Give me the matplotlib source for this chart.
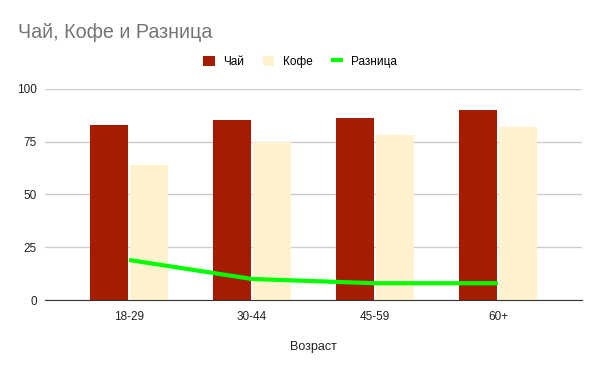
import numpy as np
import matplotlib.pyplot as plt

plt.rcParams['font.family'] = ['Liberation Sans', 'DejaVu Sans']

ages = ['18-29', '30-44', '45-59', '60+']
tea = [83, 85, 86, 90]
coffee = [64, 75, 78, 82]
diff = [19, 10, 8, 8]

fig = plt.figure(figsize=(6, 3.71), dpi=100)
ax = fig.add_axes([0.075, 0.191, 0.895, 0.570])

x = np.arange(len(ages))
w = 0.31
b1 = ax.bar(x - w / 2 - 0.008, tea, w, color='#a61c00', label='Чай', zorder=2)
b2 = ax.bar(x + w / 2 + 0.008, coffee, w, color='#fff2cc', label='Кофе', zorder=2)
l1, = ax.plot(x, diff, color='#00ff00', lw=3, label='Разница', zorder=3, solid_capstyle='butt')

ax.set_xlim(-0.683, 3.683)
ax.set_ylim(0, 100)
ax.set_yticks([0, 25, 50, 75, 100])
ax.set_xticks(x)
ax.set_xticklabels(ages)
ax.grid(axis='y', color='#cccccc', lw=1, zorder=0)
for s in ['top', 'right', 'left']:
    ax.spines[s].set_visible(False)
ax.spines['bottom'].set_color('#333333')
ax.tick_params(length=0, labelsize=8.5, colors='#222222', pad=8)
ax.tick_params(axis='y', pad=6)
ax.set_xlabel('Возраст', fontsize=9, color='#222222', labelpad=13)

fig.text(0.03, 0.913, 'Чай, Кофе и Разница', fontsize=14.2, color='#757575', va='center')
fig.legend([b1, b2, l1], ['Чай', 'Кофе', 'Разница'], loc='center',
           bbox_to_anchor=(0.5, 0.833), ncol=3, frameon=False,
           fontsize=8.5, handlelength=1.0, handleheight=1.0, columnspacing=1.6,
           handletextpad=0.7)

fig.savefig('out.png', dpi=100)
